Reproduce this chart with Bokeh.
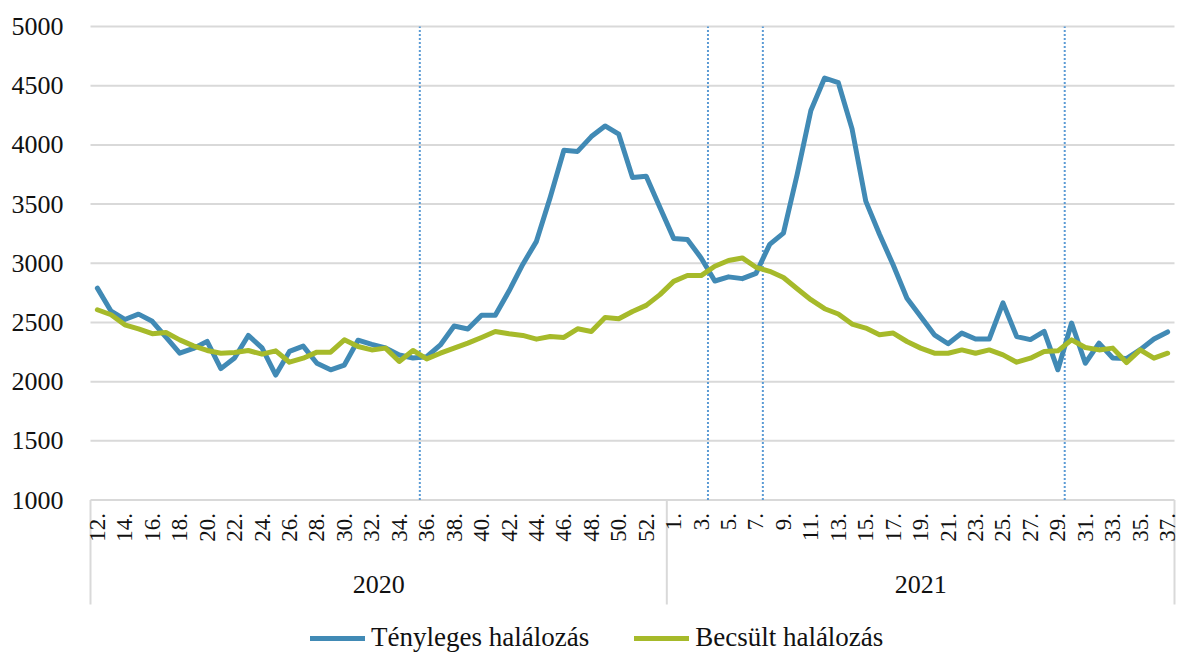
import math
from bokeh.plotting import figure
from bokeh.models import Range1d, FixedTicker, Legend, LegendItem
from bokeh.core.properties import value
from bokeh.embed import file_html
from bokeh.resources import INLINE

# ---------------- data ----------------
years = ["2020", "2021"]
weeks_2020 = list(range(12, 54))   # 2020: week 12 .. week 53
weeks_2021 = list(range(1, 38))    # 2021: week 1 .. week 37

actual_deaths = [
    2790, 2595, 2525, 2570, 2510, 2375, 2240, 2280, 2340, 2110,
    2200, 2390, 2285, 2055, 2255, 2300, 2155, 2100, 2140, 2350,
    2315, 2285, 2225, 2200, 2210, 2310, 2470, 2445, 2560, 2560,
    2765, 2990, 3185, 3555, 3955, 3945, 4070, 4160, 4090, 3725,
    3735, 3470, 3210, 3200, 3045, 2850, 2885, 2870, 2915, 3160,
    3255, 3750, 4290, 4565, 4525, 4135, 3525, 3245, 2985, 2705,
    2550, 2395, 2320, 2410, 2360, 2360, 2665, 2380, 2355, 2425,
    2100, 2495, 2155, 2325, 2200, 2195, 2270, 2360, 2420,
]
estimated_deaths = [
    2607, 2565, 2480, 2446, 2405, 2415, 2353, 2302, 2263, 2240,
    2246, 2263, 2232, 2260, 2164, 2198, 2249, 2249, 2353, 2297,
    2268, 2283, 2170, 2263, 2192, 2240, 2283, 2325, 2373, 2424,
    2404, 2390, 2359, 2381, 2373, 2446, 2424, 2542, 2531, 2593,
    2644, 2735, 2847, 2896, 2896, 2975, 3023, 3045, 2966, 2932,
    2880, 2785, 2692, 2616, 2571, 2486, 2452, 2396, 2410, 2339,
    2283, 2240, 2240, 2268, 2240, 2268, 2226, 2164, 2198, 2254,
    2260, 2353, 2288, 2268, 2283, 2161, 2268, 2198, 2240,
]
series_names = ["Tényleges halálozás", "Becsült halálozás"]
y_ticks = [1000, 1500, 2000, 2500, 3000, 3500, 4000, 4500, 5000]
# phase boundaries: dotted lines placed before these (year, week)
phase_starts = [("2020", 36), ("2021", 4), ("2021", 8), ("2021", 30)]

# ---------------- derived ----------------
cats = [("2020", w) for w in weeks_2020] + [("2021", w) for w in weeks_2021]
n = len(cats)
xs = [i + 0.5 for i in range(n)]
label_x = [xs[i] for i in range(0, n, 2)]
label_txt = [f"{cats[i][1]}." for i in range(0, n, 2)]
group_sizes = [len(weeks_2020), len(weeks_2021)]
group_edges = [0, group_sizes[0], n]
group_centers = [group_sizes[0] / 2, group_sizes[0] + group_sizes[1] / 2]
phase_x = [cats.index(c) for c in phase_starts]

# ---------------- layout (pixels) ----------------
W, H = 1183, 653
PLOT_L, PLOT_R = 90, 1174          # where categories start / end
FRAME_L = 80                       # frame extends a bit left of the first category
Y_TOP_PX, Y_AXIS_PX = 26, 499.5    # pixel rows of 5000 and 1000
cat_w = (PLOT_R - PLOT_L) / n
x_lo = -(PLOT_L - FRAME_L) / cat_w
x_hi = (W - PLOT_L) / cat_w
upp = (y_ticks[-1] - y_ticks[0]) / (Y_AXIS_PX - Y_TOP_PX)
y_hi = y_ticks[-1] + Y_TOP_PX * upp
y_lo = y_ticks[-1] - (H - Y_TOP_PX) * upp
sep_bottom = y_ticks[0] - (604 - Y_AXIS_PX) * upp

FONT = "Liberation Serif"
BLUE = "#418AB5"
GREEN = "#A6BA2A"
GRID = "#D9D9D9"
TXT = "#111111"

p = figure(width=W, height=H, output_backend="svg", toolbar_location=None,
           x_range=Range1d(x_lo, x_hi), y_range=Range1d(y_lo, y_hi),
           x_axis_location=None, min_border_left=FRAME_L, min_border_right=0,
           min_border_top=0, min_border_bottom=0)
p.outline_line_color = None
p.background_fill_color = "white"
p.border_fill_color = "white"

p.yaxis.ticker = FixedTicker(ticks=y_ticks)
p.yaxis.axis_line_color = None
p.yaxis.major_tick_line_color = None
p.yaxis.minor_tick_line_color = None
p.yaxis.major_tick_out = 0
p.yaxis.major_tick_in = 0
p.yaxis.major_label_standoff = 17
p.yaxis.major_label_text_font = FONT
p.yaxis.major_label_text_font_size = "26px"
p.yaxis.major_label_text_color = TXT
p.xgrid.visible = False
p.ygrid.visible = False

# horizontal gridlines (the 1000 line doubles as the category axis line)
p.segment(x0=[0] * len(y_ticks), y0=y_ticks, x1=[n] * len(y_ticks), y1=y_ticks,
          line_color=GRID, line_width=2)

# category separators below the axis
p.segment(x0=group_edges, y0=[y_ticks[0]] * 3, x1=group_edges, y1=[sep_bottom] * 3,
          line_color=GRID, line_width=2)

# phase dotted lines
p.segment(x0=phase_x, y0=[y_ticks[0]] * len(phase_x), x1=phase_x,
          y1=[y_ticks[-1]] * len(phase_x), line_color="#5B9BD5", line_width=2,
          line_dash="2 2")

# week labels
p.text(x=label_x, y=[y_ticks[0]] * len(label_x), text=label_txt, angle=math.pi / 2,
       text_align="right", text_baseline="middle", y_offset=13,
       text_font=value(FONT), text_font_size="23px", text_color=TXT)
# year labels
p.text(x=group_centers, y=[y_ticks[0]] * 2, text=years, text_align="center",
       text_baseline="middle", y_offset=84, text_font=value(FONT),
       text_font_size="26px", text_color=TXT)

r1 = p.line(xs, actual_deaths, line_color=BLUE, line_width=5, line_join="round",
            line_cap="round")
r2 = p.line(xs, estimated_deaths, line_color=GREEN, line_width=5, line_join="round",
            line_cap="round")

legend = Legend(items=[LegendItem(label=series_names[0], renderers=[r1]),
                       LegendItem(label=series_names[1], renderers=[r2])],
                orientation="horizontal", location=(230, 0), glyph_width=55,
                label_standoff=6, spacing=45, padding=0, margin=0,
                border_line_color=None, background_fill_alpha=0,
                label_text_font=FONT, label_text_font_size="27px",
                label_text_color=TXT)
p.add_layout(legend)

open("out.html", "w").write(file_html(p, INLINE))
